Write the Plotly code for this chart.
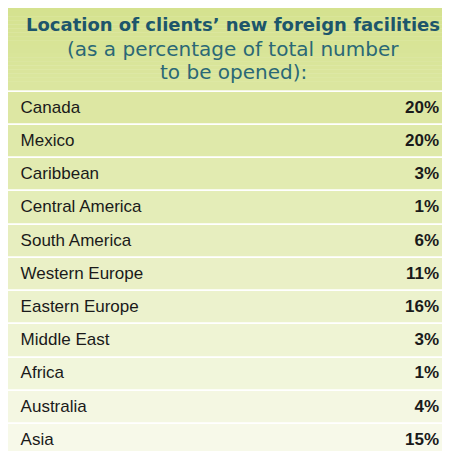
import plotly.graph_objects as go

regions = ["Canada", "Mexico", "Caribbean", "Central America", "South America",
           "Western Europe", "Eastern Europe", "Middle East", "Africa", "Australia", "Asia"]
shares = [20, 20, 3, 1, 6, 11, 16, 3, 1, 4, 15]

W, H = 450, 451
top_px = 82
n = len(regions)
row_h = (H - top_px) / n

def mix(t):
    a = (213, 226, 143); b = (248, 250, 236)
    return "rgb(%d,%d,%d)" % tuple(round(a[i] + (b[i] - a[i]) * t) for i in range(3))

fills = [mix((top_px + row_h * (i + 0.5)) / H) for i in range(n)]

fig = go.Figure()
fig.add_trace(go.Bar(orientation="h", y=regions, x=[1] * n, width=1,
                     marker=dict(color=fills, line=dict(color="white", width=1.5)),
                     hoverinfo="skip"))
fig.add_trace(go.Scatter(x=[0.028] * n, y=regions, mode="text", text=regions,
                         textposition="middle right",
                         textfont=dict(family="Liberation Sans", size=17, color="#1a1a1a")))
fig.add_trace(go.Scatter(x=[0.958] * n, y=regions, mode="text",
                         text=["<b>%d%%</b>" % s for s in shares],
                         textposition="middle left",
                         textfont=dict(family="Liberation Sans", size=17, color="#1a1a1a")))

shapes = []
steps = 20
for k in range(steps):
    y0 = 1 - k * top_px / H / steps
    y1 = 1 - (k + 1) * top_px / H / steps
    shapes.append(dict(type="rect", xref="paper", yref="paper", x0=0, x1=1, y0=y1, y1=y0,
                       fillcolor=mix((k + 0.5) * top_px / steps / H), line=dict(width=0), layer="below"))

def ann(text, ypx, size, color):
    return dict(text=text, x=0.5, y=1 - ypx / H, xref="paper", yref="paper",
                xanchor="center", yanchor="middle", showarrow=False,
                font=dict(family="DejaVu Sans", size=size, color=color))

fig.update_layout(
    width=W, height=H, margin=dict(l=0, r=0, t=0, b=0), showlegend=False,
    paper_bgcolor=mix(0.5), plot_bgcolor="rgba(0,0,0,0)", shapes=shapes, bargap=0,
    xaxis=dict(range=[0, 1], visible=False, fixedrange=True),
    yaxis=dict(domain=[0, 1 - top_px / H], autorange="reversed", visible=False, fixedrange=True),
    annotations=[
        ann("<b>Location of clients’ new foreign facilities</b>", 16, 18, "#1d566b"),
        ann("(as a percentage of total number", 41, 20, "#2a6876"),
        ann("to be opened):", 64, 20, "#2a6876"),
    ],
)
fig.write_html("out.html")
